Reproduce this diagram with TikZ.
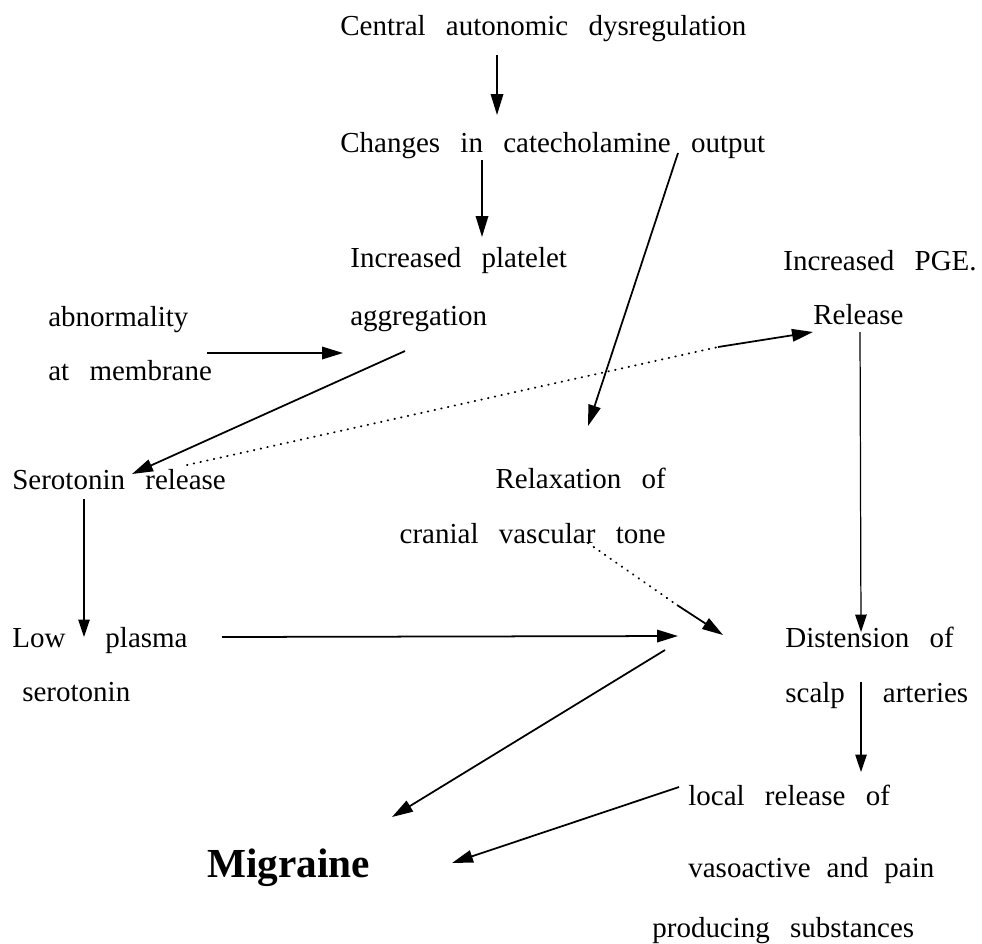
\documentclass[tikz,border=0pt]{standalone}
\usepackage{fontspec}
\setmainfont{Liberation Serif}
\usetikzlibrary{arrows.meta}
\newcommand\letra[1]{\fontsize{16.5}{31}\selectfont\spaceskip #1\relax}
\tikzset{
  texto/.style={
    inner sep=0pt,
    font=\letra{0.7em}
  },
  titulo/.style={
    inner sep=0pt,
    font=\fontsize{23.5}{28}\selectfont\bfseries
  },
  flecha/.style={
    -{Triangle[length=4.2mm,width=2.5mm]},
    line width=1pt
  },
  flechafina/.style={
    -{Triangle[length=3.5mm,width=2.3mm]},
    line width=0.7pt
  },
  punteado/.style={
    line width=1.1pt,
    line cap=round,
    dash pattern=on 0.3pt off 3.6pt
  }
}
\begin{document}
\begin{tikzpicture}[x=0.02cm,y=-0.02cm]
\useasboundingbox (0,0) rectangle (982,943);
% textos
\node[texto,anchor=base west] (cad) at (340,35) {Central autonomic dysregulation};
\node[texto,anchor=base west] (cco) at (340,152) {Changes in catecholamine output};
\node[texto,anchor=north west,align=left] (ipa) at (350,247) {Increased platelet\\[0.08cm]aggregation};
\node[texto,anchor=base west] (pge) at (783,270) {Increased PGE.};
\node[texto,anchor=base west] (rel) at (813,324) {Release};
\node[texto,anchor=north west,align=left] (abm) at (48,306) {abnormality\\at membrane};
\node[texto,anchor=base west] (ser) at (12,489) {Serotonin release};
\node[texto,anchor=north east,align=right] (rvt) at (666,468) {Relaxation of\\cranial vascular tone};
\node[texto,anchor=north west,align=left] (lps) at (12,627) {Low\hspace{0.8cm}plasma\\\hspace*{0.2cm}serotonin};
\node[texto,anchor=north west,align=left] (dsa) at (785,627) {Distension of\\scalp\hspace{0.76cm}arteries};
\node[texto,anchor=base west] (lrs) at (688,805) {local release of};
\node[texto,anchor=base west,font=\letra{0.55em}] (vap) at (688,877) {vasoactive and pain};
\node[texto,anchor=base west] (pds) at (652,937) {producing substances};
\node[titulo,anchor=base west] (mig) at (207,877) {Migraine};
\coordinate (cruce) at (690,640);
\coordinate (pgemed) at (718,347);
\coordinate (rvtmed) at (677,605);
% flechas
\draw[flecha] ([shift={(157,20)}]cad.base west) -- ([shift={(157,-37)}]cco.base west);
\draw[flecha] ([shift={(142,8)}]cco.base west) -- ([shift={(132,-10)}]ipa.north west);
\draw[flecha] ([shift={(338,1)}]cco.base west) -- ([shift={(-78,-42)}]rvt.north east);
\draw[flecha] ([shift={(159,47)}]abm.north west) -- ([shift={(-7,106)}]ipa.north west);
\draw[flecha] ([shift={(55,104)}]ipa.north west) -- ([shift={(120,-15)}]ser.base west);
\draw[punteado] ([shift={(175,-24)}]ser.base west) -- (pgemed);
\draw[flecha] (pgemed) -- ([shift={(0,8)}]rel.base west);
\draw[flechafina] ([shift={(47,8)}]rel.base west) -- ([shift={(76,5)}]dsa.north west);
\draw[flechafina] ([shift={(76,55)}]dsa.north west) -- ([shift={(173,-33)}]lrs.base west);
\draw[flechafina] ([shift={(72,10)}]ser.base west) -- ([shift={(72,10)}]lps.north west);
\draw[flecha] ([shift={(210,10)}]lps.north west) -- ([shift={(-12,-4)}]cruce);
\draw[punteado] ([shift={(-78,75)}]rvt.north east) -- (rvtmed);
\draw[flecha] (rvtmed) -- ([shift={(33,-5)}]cruce);
\draw[flecha] ([shift={(-25,10)}]cruce) -- ([shift={(185,-60)}]mig.base west);
\draw[flecha] ([shift={(-9,-18)}]lrs.base west) -- ([shift={(245,-14)}]mig.base west);
\end{tikzpicture}
\end{document}
